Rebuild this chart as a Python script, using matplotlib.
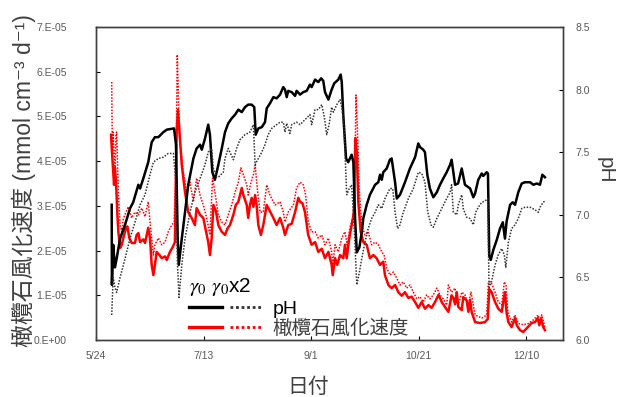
import numpy as np
import matplotlib
matplotlib.use("Agg")
import matplotlib.pyplot as plt
from matplotlib.lines import Line2D
from matplotlib.legend_handler import HandlerTuple

plt.rcParams['font.family'] = ['Liberation Sans', 'Noto Sans CJK JP', 'DejaVu Sans']

# days counted from 5/24
tick_days = [0, 50, 100, 150, 200]
tick_labels = ['5/24', '7/13', '9/1', '10/21', '12/10']

# pH, gamma0
day_ph1 = [7.3, 7.4, 8.0, 8.8, 9.6, 11.2, 13.5, 15.8, 17.3, 19.7, 20.5, 22.0, 24.3, 25.9, 27.4, 29.0,
           31.3, 32.9, 36.3, 37.2, 38.0, 38.5, 39.9, 41.4, 42.9, 45.3, 46.8, 48.4, 49.2, 50.7, 52.2, 53.0,
           54.1, 55.3, 56.9, 58.5, 60.0, 61.5, 63.1, 64.7, 66.2, 67.8, 69.3, 70.8, 72.4, 73.6, 74.3, 75.5,
           77.1, 78.6, 79.4, 80.9, 82.5, 84.0, 85.6, 87.1, 87.9, 88.7, 89.4, 91.0, 92.6, 93.3, 94.9, 96.4,
           98.0, 99.5, 100.3, 101.9, 103.4, 104.7, 105.7, 106.5, 108.1, 109.6, 110.8, 112.7, 113.8, 114.3,
           115.0, 116.3, 117.3, 118.9, 119.7, 120.5, 121.3, 122.5, 123.6, 124.3, 125.9, 127.4, 129.8, 131.3,
           132.1, 132.9, 133.6, 135.2, 136.7, 137.5, 139.1, 139.9, 141.4, 143.7, 146.0, 148.4, 149.9, 150.7,
           152.2, 153.0, 154.1, 155.3, 156.9, 158.5, 160.0, 161.5, 163.1, 164.7, 165.4, 167.0, 168.4, 170.1,
           171.6, 174.0, 175.5, 176.3, 177.8, 179.4, 180.1, 181.7, 182.3, 182.9, 183.6, 184.8, 186.4, 187.9,
           189.2, 190.2, 191.0, 192.6, 193.8, 194.9, 196.4, 198.0, 199.5, 201.9, 203.4, 205.0, 206.5, 207.6,
           208.8]
ph1 = [7.08, 6.44, 6.76, 6.58, 6.65, 6.81, 6.92, 7.05, 7.10, 7.24, 7.21, 7.29, 7.42, 7.58, 7.62, 7.62,
       7.66, 7.68, 7.69, 7.56, 6.81, 6.60, 6.81, 7.02, 7.24, 7.45, 7.53, 7.56, 7.52, 7.61, 7.72, 7.64,
       7.34, 7.28, 7.40, 7.53, 7.66, 7.73, 7.77, 7.80, 7.84, 7.82, 7.86, 7.88, 7.88, 7.86, 7.64, 7.69,
       7.70, 7.74, 7.85, 7.89, 7.94, 7.93, 7.96, 8.02, 8.00, 7.94, 7.99, 7.98, 7.95, 7.99, 7.96, 7.98,
       7.99, 8.04, 8.02, 8.08, 8.06, 8.09, 8.07, 7.98, 7.92, 8.00, 8.05, 8.08, 8.12, 8.06,
       7.80, 7.45, 7.42, 7.48, 7.42, 6.97, 6.70, 6.74, 6.86, 6.97, 7.08, 7.16, 7.24, 7.26,
       7.32, 7.28, 7.34, 7.37, 7.44, 7.45, 7.26, 7.13, 7.16, 7.26, 7.37, 7.46, 7.57, 7.54,
       7.52, 7.50, 7.32, 7.21, 7.14, 7.18, 7.24, 7.29, 7.34, 7.40, 7.44, 7.24, 7.25, 7.37,
       7.24, 7.21, 7.14, 7.17, 7.28, 7.33, 7.31, 7.34, 7.33, 6.67, 6.64, 6.72, 6.80, 6.89,
       6.94, 6.81, 6.95, 7.08, 7.10, 7.08, 7.18, 7.25, 7.26, 7.26, 7.24, 7.25, 7.24, 7.32,
       7.30]

# pH, gamma0 x2
day_ph2 = [7.3, 8.0, 8.8, 9.6, 11.2, 13.5, 15.8, 18.1, 20.5, 22.8, 25.1, 26.7, 29.0, 31.3, 33.6, 36.0,
           37.2, 37.8, 38.6, 39.9, 41.4, 43.7, 46.0, 48.4, 50.7, 52.2, 53.8, 54.6, 56.1, 56.9, 59.2, 60.0,
           61.5, 63.9, 65.4, 67.0, 69.3, 71.6, 73.2, 74.0, 75.5, 77.1, 78.6, 80.1, 81.7, 84.0, 85.6, 87.1,
           87.9, 88.7, 90.2, 91.0, 93.3, 94.9, 97.2, 99.5, 100.3, 101.9, 103.4, 105.0, 106.2, 107.3, 108.4,
           109.6, 110.4, 112.0, 113.5, 114.3, 115.3, 116.6, 117.8, 118.9, 120.0, 121.3, 122.5, 123.6, 125.1,
           126.6, 128.2, 129.8, 131.3, 132.9, 134.4, 136.7, 138.0, 139.1, 140.3, 141.4, 142.9, 145.3, 147.6,
           149.9, 151.5, 153.0, 154.3, 155.8, 156.9, 158.5, 160.8, 163.1, 164.7, 165.4, 166.2, 167.8, 168.5,
           170.1, 170.8, 172.4, 174.0, 175.5, 176.6, 177.8, 179.4, 180.9, 182.2, 182.8, 184.0, 185.6, 187.1,
           188.7, 189.9, 190.6, 191.8, 193.3, 194.9, 196.4, 198.0, 199.5, 201.9, 204.2, 205.7, 206.5, 208.0,
           208.8]
ph2 = [6.20, 6.50, 6.42, 6.38, 6.50, 6.65, 6.81, 6.94, 7.08, 7.16, 7.32, 7.42, 7.45, 7.46, 7.49, 7.49,
       7.24, 6.65, 6.34, 6.60, 6.81, 7.02, 7.18, 7.29, 7.40, 7.50, 7.53, 7.37, 7.30, 7.30, 7.34, 7.45,
       7.53, 7.44, 7.53, 7.60, 7.64, 7.66, 7.72, 7.40, 7.45, 7.50, 7.56, 7.64, 7.69, 7.72, 7.74, 7.74,
       7.66, 7.73, 7.65, 7.72, 7.74, 7.72, 7.76, 7.80, 7.72, 7.84, 7.84, 7.88, 7.78, 7.64, 7.72,
       7.86, 7.82, 7.88, 7.92, 7.86, 7.72, 7.16, 7.21, 7.24, 6.92, 6.44, 6.54, 6.65, 6.78,
       6.89, 6.97, 7.02, 7.08, 7.05, 7.13, 7.21, 7.21, 7.02, 6.89, 6.92, 7.02, 7.13, 7.21,
       7.34, 7.33, 7.26, 7.02, 6.92, 6.90, 6.97, 7.05, 7.13, 7.18, 7.24, 7.02, 7.00, 7.08,
       7.16, 7.05, 6.98, 6.97, 6.92, 7.02, 7.06, 7.10, 7.11, 7.13, 6.42, 6.47, 6.60, 6.68,
       6.73, 6.68, 6.58, 6.78, 6.89, 6.92, 6.97, 7.05, 7.06, 7.06, 7.04, 7.02, 7.06, 7.10,
       7.11]

# olivine weathering rate, gamma0 (x1e-5 mmol cm-3 d-1)
day_r1 = [7.0, 7.6, 8.4, 8.8, 9.3, 9.9, 10.4, 11.2, 12.0, 12.7, 14.0, 14.6, 15.5, 16.6, 18.1, 18.9,
          19.7, 20.5, 22.0, 22.8, 24.3, 25.1, 25.9, 26.7, 27.4, 28.2, 29.5, 30.6, 32.1, 32.9, 34.4, 35.7,
          36.7, 37.5, 38.1, 38.7, 39.9, 41.4, 42.9, 44.5, 46.0, 46.8, 48.4, 49.9, 51.2, 52.2, 53.0, 53.8,
          54.6, 55.8, 56.9, 58.5, 60.0, 61.2, 62.3, 63.9, 65.0, 66.2, 67.8, 68.5, 70.1, 70.8, 71.6, 72.4,
          73.2, 74.0, 74.7, 75.5, 76.7, 77.8, 79.4, 80.9, 82.5, 84.0, 85.6, 87.1, 87.9, 89.4, 91.0, 92.6,
          94.1, 94.9, 96.0, 97.2, 98.7, 100.3, 101.9, 103.4, 105.0, 106.5, 108.1, 109.6, 110.1, 111.2,
          112.2, 113.5, 115.0, 115.8, 116.6, 117.8, 118.9, 120.0, 120.6, 121.3, 122.0, 123.1, 124.3, 125.9,
          127.4, 129.0, 130.5, 132.1, 133.6, 134.4, 136.0, 137.5, 139.1, 140.6, 142.2, 143.7, 145.3, 146.8,
          148.4, 149.9, 151.5, 153.0, 154.6, 156.1, 157.7, 159.3, 160.8, 162.3, 163.9, 165.4, 166.2, 167.0,
          167.8, 168.5, 170.1, 170.8, 172.4, 173.2, 174.0, 174.7, 176.3, 178.6, 180.9, 182.2, 182.9, 184.0,
          185.6, 187.1, 188.7, 190.2, 191.0, 191.8, 193.3, 194.9, 195.7, 197.2, 198.7, 200.3, 202.6, 204.2,
          205.4, 206.2, 207.0, 208.0, 208.8]
rate1 = [4.59, 4.07, 3.47, 3.85, 3.55, 2.86, 2.42, 2.06, 2.13, 2.28, 2.51, 2.54, 2.28, 2.17, 2.17, 2.35,
         2.39, 2.19, 2.25, 2.17, 2.51, 2.28, 1.68, 1.45, 1.68, 1.97, 1.90, 1.83, 1.87, 1.79, 1.97, 2.08,
         2.19, 4.65, 5.15, 4.74, 3.91, 3.31, 2.86, 2.73, 2.57, 2.95, 2.80, 2.73, 2.42, 2.19, 1.90, 2.28,
         3.02, 2.88, 2.57, 2.42, 2.35, 2.50, 2.57, 2.80, 3.02, 3.09, 3.40, 3.25, 3.02, 2.73, 3.02, 3.18,
         2.98, 3.24, 3.02, 2.57, 2.35, 2.57, 3.02, 2.88, 2.73, 2.57, 2.73, 2.51, 2.35, 2.57, 2.60, 2.86,
         3.18, 3.09, 3.06, 2.86, 2.35, 2.13, 2.19, 1.97, 2.04, 1.83, 1.97, 1.68, 1.45, 1.83,
         1.68, 1.90, 1.83, 2.13, 1.83, 2.28, 2.57, 2.86, 4.52, 4.21, 3.09, 2.42, 2.19, 2.13,
         1.83, 1.90, 1.83, 1.68, 1.75, 1.45, 1.23, 1.16, 1.23, 1.07, 0.99, 1.07, 0.94, 0.97,
         0.85, 0.72, 0.85, 0.70, 0.78, 0.72, 0.85, 1.01, 0.85, 0.74, 0.63, 1.00, 0.94, 0.80,
         1.07, 0.74, 0.67, 0.96, 0.88, 0.63, 0.90, 0.63, 0.40, 0.38, 0.40, 0.47, 1.14, 1.07,
         0.85, 0.70, 0.63, 1.07, 0.60, 0.40, 0.29, 0.49, 0.33, 0.22, 0.18, 0.26, 0.38, 0.40,
         0.49, 0.33, 0.49, 0.29, 0.22]

# olivine weathering rate, gamma0 x2
day_r2 = [7.3, 7.6, 8.0, 8.8, 9.3, 9.6, 10.4, 11.2, 12.0, 12.7, 14.0, 15.0, 16.6, 18.1, 19.7, 21.3,
          22.8, 24.3, 25.1, 25.9, 26.7, 27.4, 29.0, 30.6, 32.1, 33.6, 35.2, 36.3, 37.2, 37.8, 38.5, 39.1,
          40.6, 42.2, 43.7, 45.3, 46.8, 48.4, 49.9, 51.5, 53.0, 54.2, 55.3, 56.9, 58.5, 60.0, 61.5, 63.1,
          64.7, 66.2, 67.4, 68.5, 70.1, 70.8, 72.1, 73.2, 74.0, 75.2, 76.3, 77.8, 79.4, 80.9, 83.3, 85.6,
          87.1, 87.9, 89.4, 91.8, 93.3, 94.9, 96.4, 97.5, 98.7, 100.3, 101.9, 103.4, 105.0, 106.5, 108.1,
          109.6, 110.1, 111.2, 112.7, 114.3, 115.8, 116.8, 118.1, 119.4, 120.3, 120.9, 121.5, 122.5, 123.6,
          125.1, 126.6, 128.2, 129.8, 131.3, 132.9, 134.0, 135.2, 136.7, 138.3, 139.9, 141.4, 142.9, 144.5,
          146.0, 147.6, 149.2, 150.7, 152.2, 153.8, 155.3, 156.9, 158.5, 160.0, 161.5, 163.1, 163.9, 165.4,
          167.0, 168.5, 170.1, 171.6, 173.2, 174.4, 175.5, 176.3, 179.4, 181.7, 182.5, 183.7, 185.6, 187.1,
          188.7, 189.9, 190.7, 191.5, 193.3, 194.9, 196.4, 198.7, 201.1, 203.4, 204.2, 205.7, 206.5, 207.3,
          208.8]
rate2 = [5.77, 4.14, 4.65, 3.69, 4.59, 4.65, 3.31, 2.57, 2.42, 2.71, 2.86, 2.98, 2.73, 2.86, 2.80, 2.95,
         2.76, 3.09, 2.65, 2.28, 1.90, 2.13, 2.28, 2.13, 2.19, 2.42, 2.57, 2.64, 3.76, 6.38, 5.19, 4.43,
         3.76, 3.31, 3.53, 3.09, 3.62, 3.24, 3.02, 2.73, 2.35, 3.62, 3.31, 2.80, 2.64, 2.57, 2.80, 3.02,
         3.31, 3.53, 3.85, 3.70, 3.47, 3.24, 3.53, 3.70, 3.91, 3.31, 2.86, 2.86, 3.47, 3.24, 3.02, 3.09,
         2.86, 2.64, 2.86, 3.02, 3.40, 3.53, 3.47, 3.24, 2.64, 2.42, 2.42, 2.28, 2.35, 2.13, 2.28,
         1.97, 1.68, 2.13, 1.97, 2.28, 2.42, 2.13, 2.51, 2.73, 3.18, 5.48, 4.81, 3.31, 2.57,
         2.35, 2.42, 2.13, 2.19, 2.13, 1.97, 1.90, 1.61, 1.45, 1.52, 1.38, 1.23, 1.30, 1.16,
         1.23, 1.07, 0.92, 0.97, 0.85, 1.01, 0.92, 1.01, 1.16, 1.01, 0.92, 0.78, 1.23, 1.07,
         1.16, 0.78, 1.07, 1.01, 0.78, 1.07, 0.78, 0.56, 0.49, 0.56, 1.30, 1.30, 1.07, 0.85,
         0.78, 1.30, 1.23, 0.63, 0.40, 0.56, 0.37, 0.34, 0.37, 0.45, 0.49, 0.56, 0.40, 0.56,
         0.29]

rate1 = np.array(rate1) * 1e-5
rate2 = np.array(rate2) * 1e-5

grey = '#595959'
dots = (0, (1, 1))

fig = plt.figure(figsize=(6.21, 3.97), dpi=100)
ax = fig.add_axes([96 / 621, 57 / 397, 467 / 621, 313 / 397])
ax2 = ax.twinx()

ax.plot(day_r1, rate1, color='#ff0000', lw=1.8)
ax.plot(day_r2, rate2, color='#ff0000', lw=1.1, ls=dots)
ax2.plot(day_ph1, ph1, color='black', lw=1.8)
ax2.plot(day_ph2, ph2, color='#333333', lw=1.1, ls=dots)

ax.set_xlim(0, 217.2)
ax.set_ylim(0, 7e-5)
ax2.set_ylim(6.0, 8.5)

ax.set_xticks(tick_days)
ax.set_xticklabels(tick_labels)
ax.set_yticks(np.arange(0, 8) * 1e-5)
ax.set_yticklabels([f"{v:.0E}".replace('E', '.E') for v in np.arange(0, 8) * 1e-5])
ax2.set_yticks(np.arange(6.0, 8.51, 0.5))
ax2.set_yticklabels([f"{v:.1f}" for v in np.arange(6.0, 8.51, 0.5)])

ax.tick_params(axis='x', direction='in', length=3, labelsize=7.5, pad=8, labelcolor=grey)
ax.tick_params(axis='y', direction='in', length=3, labelsize=7.5, pad=21, labelcolor=grey)
ax2.tick_params(axis='y', direction='in', length=3, labelsize=7.5, pad=9, labelcolor=grey)
for a in (ax, ax2):
    for s in a.spines.values():
        s.set_color('#404040')
        s.set_linewidth(1.0)

fig.text(24 / 621, 1 - 181 / 397, '橄欖石風化速度 (mmol cm⁻³ d⁻¹)', rotation=90,
         ha='center', va='center', fontsize=16.5, color='#404040')
fig.text(605 / 621, 1 - 170 / 397, 'pH', rotation=-90, ha='center', va='center',
         fontsize=15, color='#404040')
fig.text(308 / 621, 1 - 387 / 397, '日付', ha='center', va='center', fontsize=15, color='#404040')
fig.text(305 / 621, 1 + 7 / 397, '図　橄欖石の風化速度の変化', ha='center', va='center',
         fontsize=16, color='#404040')

# legend keys: solid = gamma0, dotted = gamma0 x2
keys = [(Line2D([], [], color='black', lw=2.4), Line2D([], [], color='#333333', lw=2.0, ls=dots)),
        (Line2D([], [], color='#ff0000', lw=2.4), Line2D([], [], color='#ff0000', lw=2.0, ls=dots))]
leg = ax2.legend(handles=keys, labels=['pH', '橄欖石風化速度'],
                 handler_map={tuple: HandlerTuple(ndivide=None, pad=0.45)},
                 title=r'$\gamma_0$ $\gamma_0$x2', title_fontsize=15, alignment='left',
                 fontsize=14, frameon=False, handlelength=3.8, handletextpad=0.5,
                 labelspacing=0.1, borderpad=0.1, borderaxespad=0,
                 loc='lower left', bbox_to_anchor=(0.195, 0.0))
leg.get_title().set_math_fontfamily('stix')
for t in leg.get_texts():
    t.set_color('#404040')
leg.get_texts()[0].set_color('black')

fig.savefig('out.png', dpi=100)
